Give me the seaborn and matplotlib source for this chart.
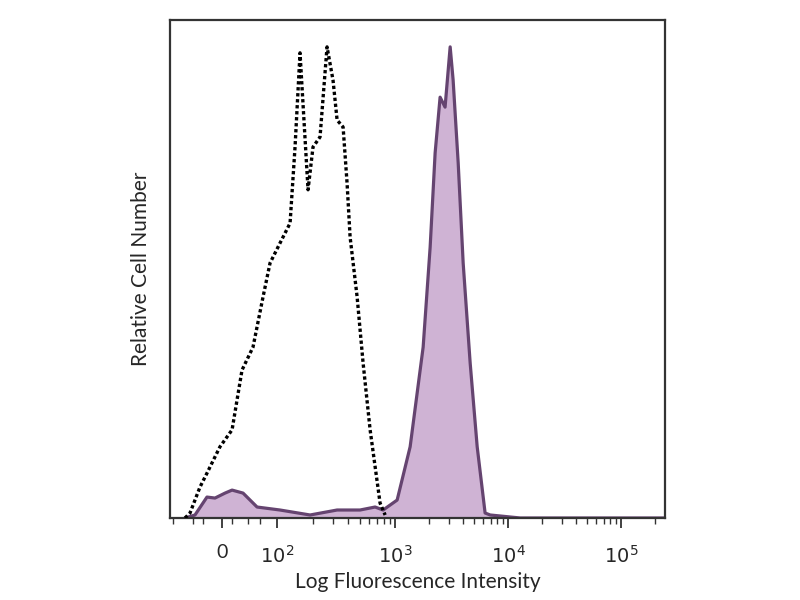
import matplotlib
matplotlib.use("Agg")
import matplotlib.pyplot as plt
import seaborn as sns
import pandas as pd
import numpy as np

# x is in display "decade" units of the biexponential axis (10^3 -> 3, 10^4 -> 4 ...)
# y is relative cell number (% of max channel height)
iso_x = [1.142, 1.186, 1.274, 1.336, 1.451, 1.558, 1.646, 1.743, 1.832, 1.894,
         1.982, 2.071, 2.115, 2.159, 2.230, 2.274, 2.336, 2.398, 2.451, 2.487,
         2.540, 2.575, 2.602, 2.664, 2.717, 2.779, 2.867, 2.912]
iso_y = [0.0, 1.0, 6.2, 9.0, 14.3, 17.7, 29.7, 34.3, 44.4, 51.2,
         55.2, 59.2, 74.5, 93.4, 65.9, 74.5, 76.5, 94.6, 87.9, 79.9,
         78.5, 67.3, 56.4, 44.4, 31.1, 17.7, 3.0, 0.6]

stain_x = [1.142, 1.230, 1.336, 1.407, 1.496, 1.558, 1.655, 1.779, 1.982, 2.248,
           2.487, 2.690, 2.823, 2.894, 3.018, 3.133, 3.248, 3.310, 3.354, 3.398,
           3.442, 3.487, 3.513, 3.558, 3.602, 3.664, 3.726, 3.796, 3.841, 3.930,
           4.106, 5.389]
stain_y = [0.0, 0.6, 4.2, 4.0, 5.0, 5.6, 5.0, 2.2, 1.6, 0.6,
           1.6, 1.6, 2.2, 1.6, 3.6, 14.3, 34.3, 54.4, 73.3, 84.5,
           82.5, 94.6, 88.0, 71.3, 51.2, 31.1, 14.3, 1.0, 0.6, 0.4,
           0.0, 0.0]

tick_pos = [1.469, 1.956, 3, 4, 5]
tick_labels = ["0", "$10^2$", "$10^3$", "$10^4$", "$10^5$"]
linear_minor = [1.035, 1.212, 1.301, 1.558, 1.699, 1.805]

iso = pd.DataFrame({"x": iso_x, "y": iso_y})
stain = pd.DataFrame({"x": stain_x, "y": stain_y})

sns.set_theme(style="ticks")
plt.rcParams["font.family"] = ["Lato", "DejaVu Sans"]

fig = plt.figure(figsize=(8, 6), dpi=100)
ax = fig.add_axes([0.2125, 0.1367, 0.619, 0.83])

fill_col = "#cfb3d4"
edge_col = "#654470"

ax.fill_between(stain["x"], stain["y"], 0, color=fill_col, lw=0, zorder=1)
sns.lineplot(data=stain, x="x", y="y", color=edge_col, lw=2.3, sort=False,
             ax=ax, zorder=2)
sns.lineplot(data=iso, x="x", y="y", color="black", lw=2.4, ls=(0, (1, 0.8)),
             sort=False, ax=ax, zorder=3)

ax.set_xlim(1.009, 5.389)
ax.set_ylim(0, 100)

# minor ticks: linear zone near zero + log decades
log_minor = []
for m in range(2, 10):
    log_minor.append(1.956 + np.log10(m) * 1.044)
    log_minor.append(3 + np.log10(m))
    log_minor.append(4 + np.log10(m))
    if 5 + np.log10(m) < 5.389:
        log_minor.append(5 + np.log10(m))
ax.set_xticks(tick_pos)
ax.set_xticklabels(tick_labels, fontsize=14)
ax.set_xticks(linear_minor + log_minor, minor=True)
ax.set_yticks([])
ax.tick_params(axis="x", which="major", length=7, width=1.3, direction="out",
               color="#333333", pad=12)
ax.tick_params(axis="x", which="minor", length=4, width=1.0, direction="out",
               color="#333333")

for s in ax.spines.values():
    s.set_visible(True)
    s.set_color("#333333")
    s.set_linewidth(1.6)

ax.set_xlabel("Log Fluorescence Intensity", fontsize=15, labelpad=4)
ax.set_ylabel("Relative Cell Number", fontsize=15, labelpad=14)

fig.savefig("out.png", dpi=100, facecolor="white")
